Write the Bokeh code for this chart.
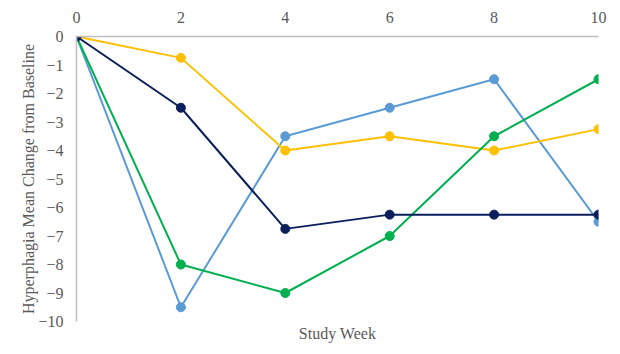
from bokeh.plotting import figure
from bokeh.models import LinearAxis, FixedTicker, Range1d
from bokeh.embed import file_html
from bokeh.resources import INLINE

weeks = [0, 2, 4, 6, 8, 10]
series_blue = [0, -9.5, -3.5, -2.5, -1.5, -6.5]
series_green = [0, -8, -9, -7, -3.5, -1.5]
series_yellow = [0, -0.75, -4, -3.5, -4, -3.25]
series_navy = [0, -2.5, -6.75, -6.25, -6.25, -6.25]
x_ticks = [0, 2, 4, 6, 8, 10]
y_ticks = [0, -1, -2, -3, -4, -5, -6, -7, -8, -9, -10]

colors = {
    "blue": "#5B9BD5",
    "green": "#00B050",
    "yellow": "#FFC000",
    "navy": "#0B1F5C",
}

FONT = "Liberation Serif"
TXT = "#595959"

p = figure(width=620, height=354, output_backend="svg", toolbar_location=None,
           x_range=Range1d(0, 10), y_range=Range1d(-10, 0),
           x_axis_location="above",
           min_border_left=76, min_border_right=22, min_border_top=36, min_border_bottom=33)
p.xgrid.visible = False
p.ygrid.visible = False
p.outline_line_color = None
p.background_fill_color = "white"
p.border_fill_color = "white"

for ax in (p.xaxis[0], p.yaxis[0]):
    ax.axis_line_color = "#BFBFBF"
    ax.axis_line_width = 1.5
    ax.major_tick_line_color = None
    ax.minor_tick_line_color = None
    ax.major_label_text_font = FONT
    ax.major_label_text_font_size = "16px"
    ax.major_label_text_color = TXT
    ax.axis_label_text_font = FONT
    ax.axis_label_text_font_size = "16px"
    ax.axis_label_text_color = TXT
    ax.axis_label_text_font_style = "normal"

p.xaxis[0].ticker = FixedTicker(ticks=x_ticks)
p.xaxis[0].major_label_standoff = 8
p.yaxis[0].ticker = FixedTicker(ticks=y_ticks)
p.yaxis[0].major_label_standoff = 7
p.yaxis[0].axis_label = "Hyperphagia Mean Change from Baseline"
p.yaxis[0].axis_label_standoff = -2

bottom = LinearAxis(axis_label="Study Week", ticker=FixedTicker(ticks=[]))
bottom.axis_line_color = None
bottom.major_tick_line_color = None
bottom.minor_tick_line_color = None
bottom.major_label_text_font_size = "0px"
bottom.major_label_standoff = 0
bottom.axis_label_standoff = 3
bottom.axis_label_text_font = FONT
bottom.axis_label_text_font_size = "16px"
bottom.axis_label_text_color = TXT
bottom.axis_label_text_font_style = "normal"
p.add_layout(bottom, "below")

for vals, key in [(series_blue, "blue"), (series_yellow, "yellow"),
                  (series_green, "green"), (series_navy, "navy")]:
    c = colors[key]
    p.line(weeks, vals, line_color=c, line_width=2)
    p.scatter(weeks, vals, size=9, fill_color=c, line_color=c)

open("out.html", "w").write(file_html(p, INLINE))
